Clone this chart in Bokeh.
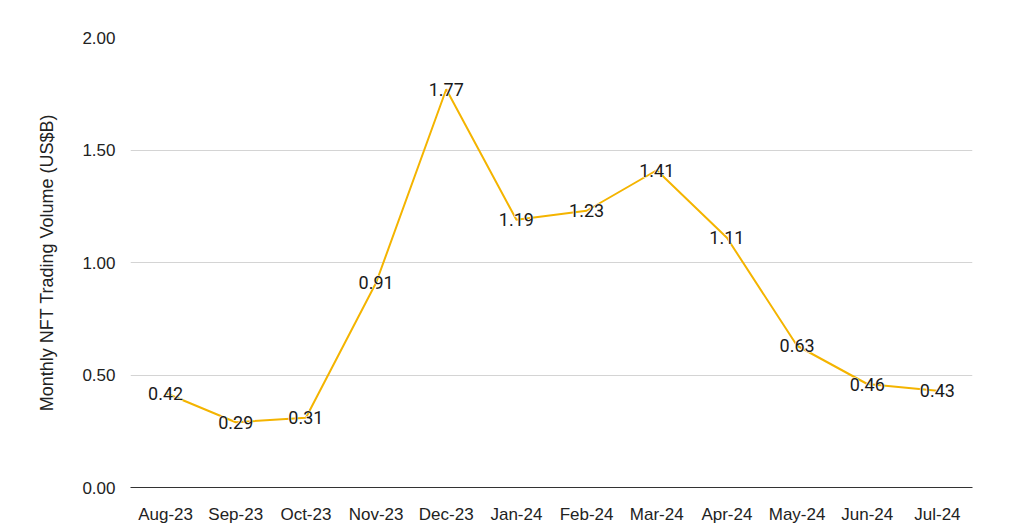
from bokeh.plotting import figure
from bokeh.models import ColumnDataSource, FixedTicker, NumeralTickFormatter, Range1d
from bokeh.core.properties import value
from bokeh.embed import file_html
from bokeh.resources import INLINE

months = ["Aug-23", "Sep-23", "Oct-23", "Nov-23", "Dec-23", "Jan-24",
          "Feb-24", "Mar-24", "Apr-24", "May-24", "Jun-24", "Jul-24"]
volume = [0.42, 0.29, 0.31, 0.91, 1.77, 1.19, 1.23, 1.41, 1.11, 0.63, 0.46, 0.43]
y_ticks = [0.0, 0.5, 1.0, 1.5, 2.0]

src = ColumnDataSource(dict(m=months, v=volume, t=["%.2f" % x for x in volume]))

p = figure(x_range=months, y_range=Range1d(0, 2), width=1036, height=529,
           output_backend="svg", toolbar_location=None,
           min_border_left=130, min_border_right=64, min_border_top=37, min_border_bottom=42)
p.outline_line_color = None
p.background_fill_color = "white"
p.border_fill_color = "white"

p.line("m", "v", source=src, line_color="#F4B400", line_width=2)
# white halo behind labels
p.text("m", "v", text="t", source=src, text_align="center", text_baseline="middle",
       text_font=value("Roboto"), text_font_size="18px", text_color="white",
       text_outline_color="white")
p.text("m", "v", text="t", source=src, text_align="center", text_baseline="middle",
       text_font=value("Roboto"), text_font_size="18px", text_color="#1a1a1a")

p.xgrid.grid_line_color = None
p.ygrid.grid_line_color = "#d4d4d4"
p.ygrid.ticker = FixedTicker(ticks=y_ticks)

p.yaxis.ticker = FixedTicker(ticks=y_ticks)
p.yaxis.formatter = NumeralTickFormatter(format="0.00")
p.yaxis.axis_line_color = None
p.yaxis.major_tick_line_color = None
p.yaxis.minor_tick_line_color = None
p.yaxis.major_label_standoff = 9
p.yaxis.major_label_text_font = "Liberation Sans"
p.yaxis.major_label_text_font_size = "17px"
p.yaxis.major_label_text_color = "#222222"
p.yaxis.axis_label = "Monthly NFT Trading Volume (US$B)"
p.yaxis.axis_label_text_font = "Liberation Sans"
p.yaxis.axis_label_text_font_style = "normal"
p.yaxis.axis_label_text_font_size = "18px"
p.yaxis.axis_label_text_color = "#222222"
p.yaxis.axis_label_standoff = 22

p.xaxis.axis_line_color = "#333333"
p.xaxis.axis_line_width = 1
p.xaxis.major_tick_line_color = None
p.xaxis.minor_tick_line_color = None
p.xaxis.major_label_standoff = 11
p.xaxis.major_label_text_font = "Liberation Sans"
p.xaxis.major_label_text_font_size = "17px"
p.xaxis.major_label_text_color = "#222222"

open("out.html", "w").write(file_html(p, INLINE))
